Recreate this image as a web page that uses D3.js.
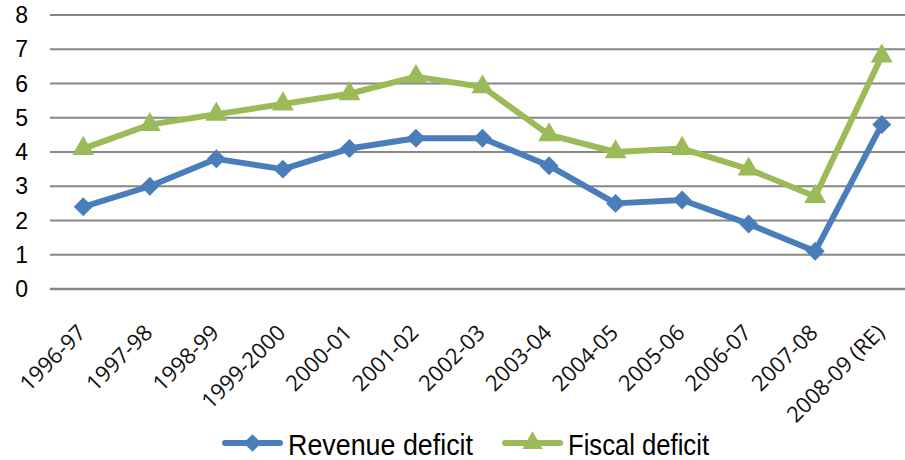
<!DOCTYPE html>
<html>
<head>
<meta charset="utf-8">
<script src="https://d3js.org/d3.v7.min.js"></script>
<style>
  body { margin: 0; background: #fff; }
  svg { display: block; }
</style>
</head>
<body>
<svg id="chart" width="905" height="460"></svg>
<script>
// data
const years = ['1996-97', '1997-98', '1998-99', '1999-2000', '2000-01', '2001-02', '2002-03',
  '2003-04', '2004-05', '2005-06', '2006-07', '2007-08', '2008-09 (RE)']
const revenueDeficit = [2.4, 3.0, 3.8, 3.5, 4.1, 4.4, 4.4, 3.6, 2.5, 2.6, 1.9, 1.1, 4.8]
const fiscalDeficit = [4.1, 4.8, 5.1, 5.4, 5.7, 6.2, 5.9, 4.5, 4.0, 4.1, 3.5, 2.7, 6.8]
const yTicks = [0, 1, 2, 3, 4, 5, 6, 7, 8]

const series = [
  { name: 'Revenue deficit', values: revenueDeficit, color: '#4a7ebb', marker: 'diamond' },
  { name: 'Fiscal deficit', values: fiscalDeficit, color: '#9bbb59', marker: 'triangle' }
]

// draw
const svg = d3.select('#chart')
const plotLeft = 50, plotRight = 915, plotTop = 15, plotBottom = 289

const x = d3.scaleBand().domain(years).range([plotLeft, plotRight])
const y = d3.scaleLinear().domain([0, 8]).range([plotBottom, plotTop])
const cx = d => x(d) + x.bandwidth() / 2

// gridlines
svg.append('g').selectAll('line').data(yTicks)
  .enter().append('line')
  .attr('x1', plotLeft).attr('x2', 905)
  .attr('y1', d => y(d)).attr('y2', d => y(d))
  .attr('stroke', '#868686')
  .attr('stroke-width', d => d === 0 ? 2.5 : 2)

// y labels
svg.append('g').selectAll('text').data(yTicks)
  .enter().append('text')
  .attr('x', 28).attr('y', d => y(d))
  .attr('dy', '0.35em')
  .attr('text-anchor', 'end')
  .style('font', '23px "Liberation Sans", Arial, sans-serif')
  .text(d => d)

// x labels
svg.append('g').selectAll('text').data(years)
  .enter().append('text')
  .attr('transform', d => 'translate(' + (cx(d) + 4) + ',334) rotate(-45)')
  .attr('text-anchor', 'end')
  .style('font', '22px "Open Sans", sans-serif')
  .attr('fill', '#111')
  .text(d => d)

function markerPath(type, size) {
  if (type === 'diamond') return d3.symbol().type(d3.symbolDiamond2).size(size)()
  return d3.symbol().type(d3.symbolTriangle).size(size)()
}

const line = d3.line().x((d, i) => cx(years[i])).y(d => y(d))

for (const s of series) {
  svg.append('path')
    .attr('d', line(s.values))
    .attr('fill', 'none')
    .attr('stroke', s.color)
    .attr('stroke-width', 6)
    .attr('stroke-linejoin', 'round')
  svg.append('g').selectAll('path').data(s.values)
    .enter().append('path')
    .attr('d', markerPath(s.marker, s.marker === 'diamond' ? 230 : 210))
    .attr('transform', (d, i) => 'translate(' + cx(years[i]) + ',' + y(d) + ')')
    .attr('fill', s.color)
}

// legend
const legendItems = [
  { x: 223, textLen: 185 },
  { x: 503, textLen: 141 }
]
series.forEach((s, i) => {
  const g = svg.append('g').attr('transform', 'translate(' + legendItems[i].x + ',443)')
  g.append('line').attr('x1', 2).attr('x2', 57)
    .attr('stroke', s.color).attr('stroke-width', 6).attr('stroke-linecap', 'round')
  g.append('path').attr('d', markerPath(s.marker, s.marker === 'diamond' ? 200 : 180))
    .attr('transform', 'translate(29.5,0)')
    .attr('fill', s.color)
  g.append('text').attr('x', 65).attr('y', 12)
    .attr('textLength', legendItems[i].textLen)
    .attr('lengthAdjust', 'spacingAndGlyphs')
    .style('font', '30px "Liberation Sans", Arial, sans-serif')
    .text(s.name)
})
</script>
</body>
</html>
